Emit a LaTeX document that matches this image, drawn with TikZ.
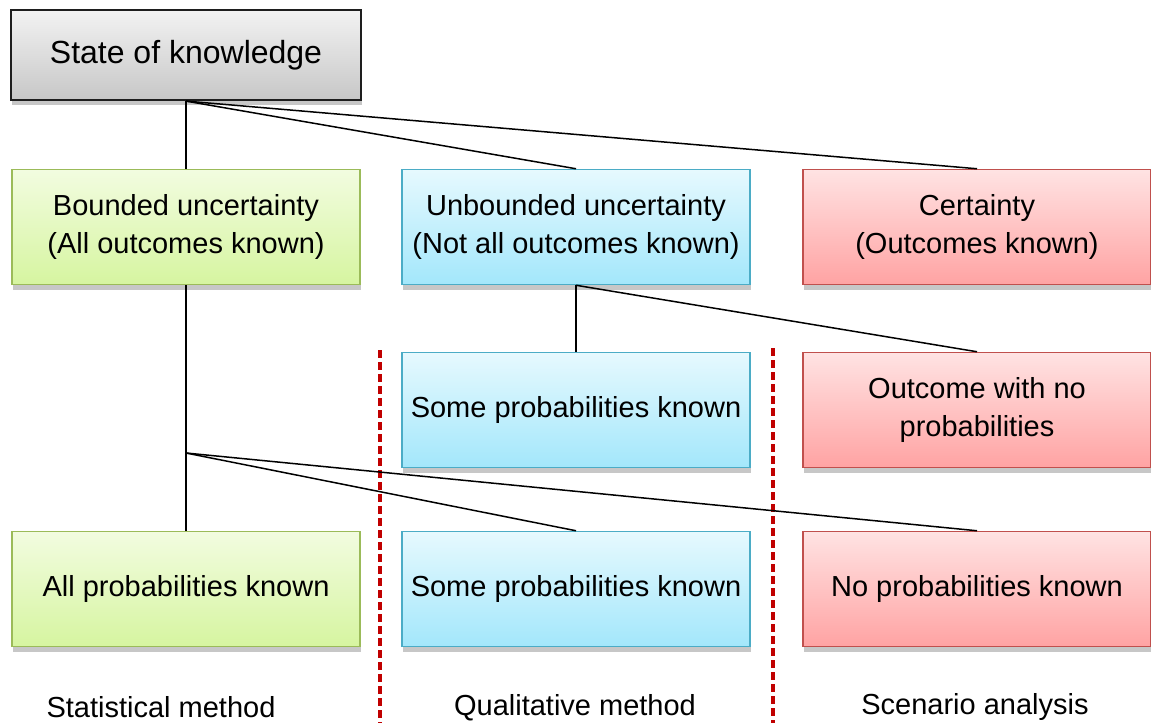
\documentclass[tikz,border=0pt]{standalone}
\usepackage{fontspec}
\setmainfont{Liberation Sans}
\usetikzlibrary{shadows}
\definecolor{grayedge}{HTML}{1E1E1E}
\definecolor{greenedge}{HTML}{9BBB59}
\definecolor{blueedge}{HTML}{4BACC6}
\definecolor{rededge}{HTML}{C0504D}
\definecolor{splitred}{HTML}{C00000}
\definecolor{greentop}{HTML}{F2FCE0}
\definecolor{greenbot}{HTML}{D6F5A0}
\definecolor{bluetop}{HTML}{E6F9FE}
\definecolor{bluebot}{HTML}{A3E7FB}
\definecolor{redtop}{HTML}{FFE3E3}
\definecolor{redbot}{HTML}{FFA3A3}
\tikzset{
  box/.style={rectangle, align=center, minimum width=348pt, minimum height=115pt,
    inner sep=0pt, line width=1.5pt,
    font=\fontsize{29}{38}\selectfont,
    drop shadow={shadow xshift=1pt, shadow yshift=-5pt, fill=black!22, opacity=1}},
  graybox/.style={box, draw=grayedge, line width=2.2pt, top color=black!5, bottom color=black!22,
    minimum width=350pt, minimum height=90pt, font=\fontsize{32}{38}\selectfont},
  greenbox/.style={box, draw=greenedge, top color=greentop, bottom color=greenbot},
  bluebox/.style={box, draw=blueedge, top color=bluetop, bottom color=bluebot},
  redbox/.style={box, draw=rededge, top color=redtop, bottom color=redbot},
  method/.style={font=\fontsize{29}{38}\selectfont},
  split/.style={draw=splitred, line width=3.5pt, dash pattern=on 8pt off 4pt},
}
\begin{document}
\begin{tikzpicture}[x=1pt, y=-1pt]
  \useasboundingbox (0,0) rectangle (1151,723);
  % column separators
  \draw[split] (380,350) -- (380,723);
  \draw[split] (773,348) -- (773,723);
  \draw
    (186,55) node[graybox] (know){State of knowledge}
    (186,227) node[greenbox] (bound){Bounded uncertainty\\(All outcomes known)}
    (576,227) node[bluebox] (unbound){Unbounded uncertainty\\(Not all outcomes known)}
    (977,227) node[redbox] (certain){Certainty\\(Outcomes known)}
    (576,410) node[bluebox] (somemid){Some probabilities known}
    (977,410) node[redbox] (noprobs){Outcome with no\\probabilities}
    (186,589) node[greenbox] (allprob){All probabilities known}
    (576,589) node[bluebox] (somebot){Some probabilities known}
    (977,589) node[redbox] (nobot){No probabilities known};
  \coordinate (fork) at (186,453);
  \begin{scope}[-, line width=1.5pt]
    \draw (know.south) to (bound.north);
    \draw (know.south) to (unbound.north);
    \draw (know.south) to (certain.north);
    \draw (unbound.south) to (somemid.north);
    \draw (unbound.south) to (noprobs.north);
    \draw (bound.south) to (allprob.north);
    \draw (fork) to (somebot.north);
    \draw (fork) to (nobot.north);
  \end{scope}
  \node[method] (stat) at (161,707) {Statistical method};
  \node[method] (qual) at (575,708) {Qualitative method};
  \node[method] (scen) at (975,707) {Scenario analysis};
\end{tikzpicture}
\end{document}
